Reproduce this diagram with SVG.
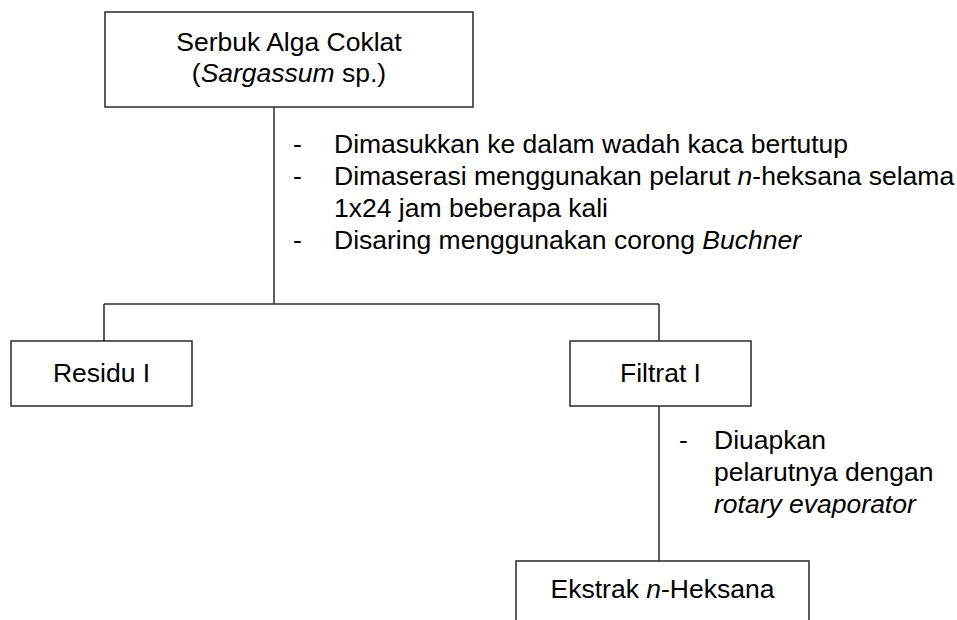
<svg xmlns="http://www.w3.org/2000/svg" width="957" height="620" viewBox="0 0 957 620">
<style>
.box{fill:#fff;stroke:#2a2a2a;stroke-width:1.5}
.ln{stroke:#2a2a2a;stroke-width:1.5;fill:none}
text{font-family:"Liberation Sans",Arial,sans-serif;font-size:26.5px;fill:#000}
.c{text-anchor:middle}
</style>
<rect width="957" height="620" fill="#fff"/>
<g id="connectors">
<line class="ln" x1="274" y1="107" x2="274" y2="304"/>
<line class="ln" x1="104" y1="304" x2="659" y2="304"/>
<line class="ln" x1="104" y1="304" x2="104" y2="341"/>
<line class="ln" x1="659" y1="304" x2="659" y2="341"/>
<line class="ln" x1="659" y1="406" x2="659" y2="561"/>
</g>
<g id="serbuk">
<rect class="box" x="105" y="12" width="368" height="95"/>
<text class="c" x="289" y="51">Serbuk Alga Coklat</text>
<text class="c" x="289" y="82">(<tspan font-style="italic">Sargassum</tspan> sp.)</text>
</g>
<g id="step1">
<text x="293" y="153">-</text>
<text x="334" y="153">Dimasukkan ke dalam wadah kaca bertutup</text>
<text x="293" y="185">-</text>
<text x="334" y="185">Dimaserasi menggunakan pelarut <tspan font-style="italic">n</tspan>-heksana selama</text>
<text x="334" y="217">1x24 jam beberapa kali</text>
<text x="293" y="249">-</text>
<text x="334" y="249">Disaring menggunakan corong <tspan font-style="italic">Buchner</tspan></text>
</g>
<g id="residu">
<rect class="box" x="11" y="341" width="181" height="65"/>
<text class="c" x="101.5" y="382">Residu I</text>
</g>
<g id="filtrat">
<rect class="box" x="570" y="341" width="181" height="65"/>
<text class="c" x="660.5" y="382">Filtrat I</text>
</g>
<g id="step2">
<text x="679" y="449">-</text>
<text x="714" y="449">Diuapkan</text>
<text x="714" y="481">pelarutnya dengan</text>
<text x="714" y="513" font-style="italic">rotary evaporator</text>
</g>
<g id="ekstrak">
<rect class="box" x="516" y="561" width="293" height="80"/>
<text class="c" x="662.5" y="598">Ekstrak <tspan font-style="italic">n</tspan>-Heksana</text>
</g>
</svg>
